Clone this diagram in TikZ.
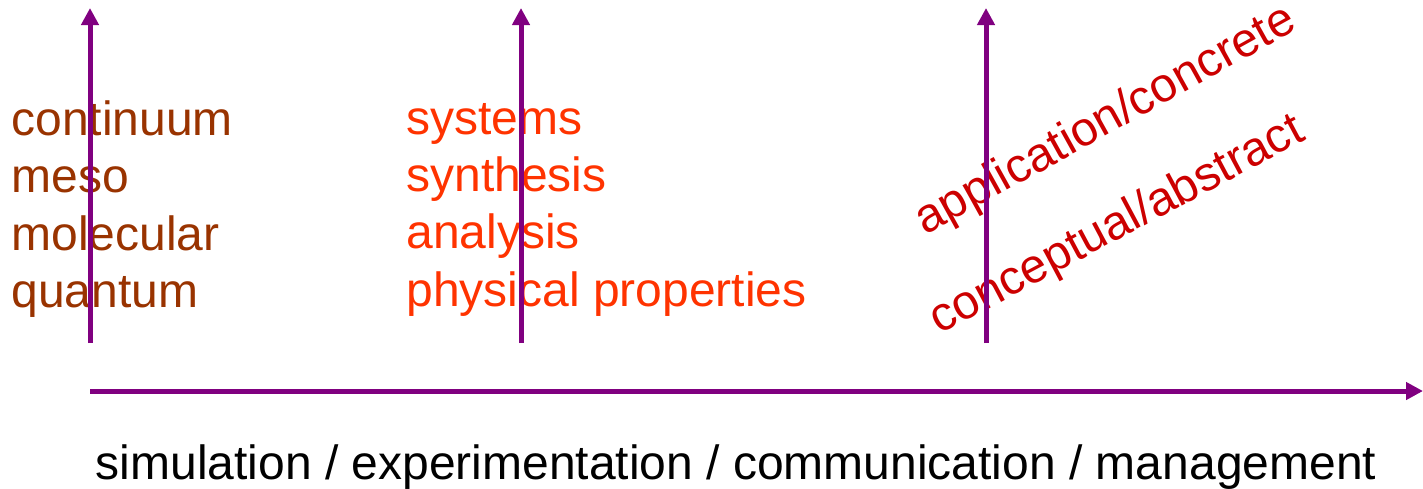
\documentclass[tikz,border=0pt]{standalone}
\usepackage{fontspec}
\setmainfont{Liberation Sans}
\usetikzlibrary{arrows.meta}
\definecolor{axpurple}{RGB}{128,0,128}
\definecolor{scalebrown}{RGB}{153,51,0}
\definecolor{taskorange}{RGB}{255,51,0}
\definecolor{levelred}{RGB}{204,0,0}
\begin{document}
\begin{tikzpicture}[x=0.5pt,y=-0.5pt]
		\tikzset{
			ax/.style={draw=axpurple, line width=2.5pt, -{Triangle[length=8.5pt,width=8.5pt]}},
			lbl/.style={anchor=base west, inner sep=0pt, font=\fontsize{24}{28}\selectfont},
		}
		\useasboundingbox (0,0) rectangle (1423,488);
		% scale labels
		\node[lbl, text=scalebrown] (continuum) at (11,135) {continuum};
		\node[lbl, text=scalebrown] (meso) at (11,192) {meso};
		\node[lbl, text=scalebrown] (molecular) at (11,250) {molecular};
		\node[lbl, text=scalebrown] (quantum) at (11,307) {quantum};
		% task labels
		\node[lbl, text=taskorange] (systems) at (406,134) {systems};
		\node[lbl, text=taskorange] (synthesis) at (406,191) {synthesis};
		\node[lbl, text=taskorange] (analysis) at (406,248) {analysis};
		\node[lbl, text=taskorange] (physical) at (406,306) {physical properties};
		% level labels
		\node[lbl, text=levelred, rotate=29] (application) at (925,236) {application/concrete};
		\node[lbl, text=levelred, rotate=28] (conceptual) at (939,335) {conceptual/abstract};
		\node[lbl, anchor=base] (methods) at (736,479) {simulation / experimentation / communication / management};
		% axes
		\coordinate (scalebot) at (90,343);
		\coordinate (scaletop) at (90,8);
		\coordinate (taskbot) at (521,343);
		\coordinate (tasktop) at (521,8);
		\coordinate (levelbot) at (986,343);
		\coordinate (leveltop) at (986,8);
		\coordinate (hstart) at (90,391);
		\coordinate (hend) at (1423,391);
		\draw[ax] (scalebot) -- (scaletop);
		\draw[ax] (taskbot) -- (tasktop);
		\draw[ax] (levelbot) -- (leveltop);
		\draw[ax] (hstart) -- (hend);
	\end{tikzpicture}
\end{document}
